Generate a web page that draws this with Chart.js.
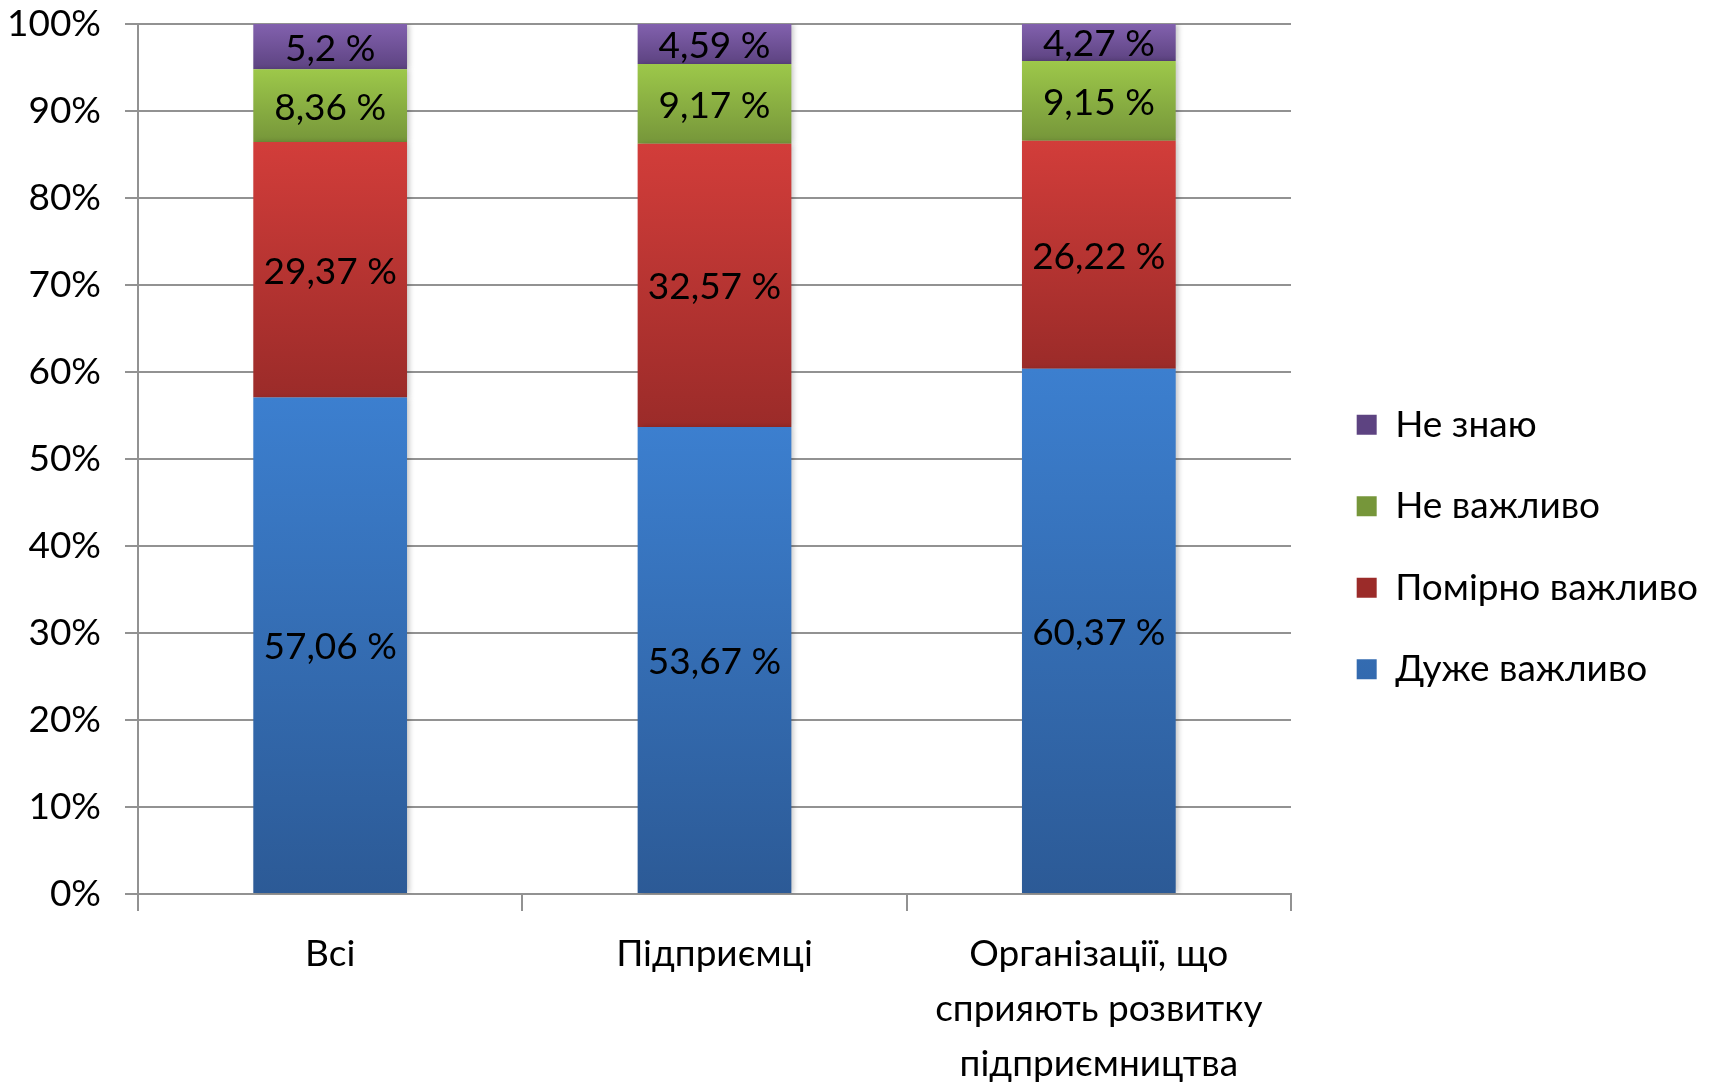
<!DOCTYPE html>
<html>
<head>
<meta charset="utf-8">
<script src="https://cdn.jsdelivr.net/npm/chart.js@4.4.1/dist/chart.umd.min.js"></script>
<style>
  html, body { margin: 0; padding: 0; background: #fff; }
  #wrap { width: 1714px; height: 1087px; position: relative; }
</style>
</head>
<body>
<div id="wrap"><canvas id="chart"></canvas></div>
<script>
// Категорії та значення (у відсотках)
const categories = ['Всі', 'Підприємці', ['Організації, що', 'сприяють розвитку', 'підприємництва']];
const seriesNames = ['Дуже важливо', 'Помірно важливо', 'Не важливо', 'Не знаю'];
const veryImportant = [57.06, 53.67, 60.37];
const moderately = [29.37, 32.57, 26.22];
const notImportant = [8.36, 9.17, 9.15];
const dontKnow = [5.2, 4.59, 4.27];

const FONT = 'Lato';
const GRID = '#929292';
const PAD_R = 6;
const PLOT_RIGHT = 1291;

// вертикальний градієнт для кожного сегмента (світліше зверху)
function grad(top, bottom, solid) {
  return c => {
    const chart = c.chart, y = chart.scales && chart.scales.y;
    if (c.type !== 'data' || !y) return solid;
    let start = 0;
    for (let i = 0; i < c.datasetIndex; i++) start += chart.data.datasets[i].data[c.dataIndex];
    const y0 = y.getPixelForValue(start + c.raw), y1 = y.getPixelForValue(start);
    if (!isFinite(y0) || !isFinite(y1) || y0 === y1) return solid;
    const g = chart.ctx.createLinearGradient(0, y0, 0, y1);
    g.addColorStop(0, top);
    g.addColorStop(1, bottom);
    return g;
  };
}

const fmt = v => String(v).replace('.', ',') + ' %';

// легка тінь справа від стовпців
const barShadow = {
  id: 'barShadow',
  beforeDatasetsDraw(chart) {
    const ctx = chart.ctx;
    ctx.save();
    ctx.shadowColor = 'rgba(0,0,0,0.22)';
    ctx.shadowBlur = 5;
    ctx.shadowOffsetX = 3;
  },
  afterDatasetsDraw(chart) { chart.ctx.restore(); }
};

const barLabels = {
  id: 'barLabels',
  afterDatasetsDraw(chart) {
    const ctx = chart.ctx;
    ctx.save();
    ctx.font = '37px ' + FONT;
    ctx.fillStyle = '#000';
    ctx.textAlign = 'center';
    ctx.textBaseline = 'middle';
    chart.data.datasets.forEach((ds, i) => {
      chart.getDatasetMeta(i).data.forEach((el, j) => {
        ctx.fillText(fmt(ds.data[j]), el.x, (el.y + el.base) / 2 + 2);
      });
    });
    ctx.restore();
  }
};

const datasets = [
  { label: seriesNames[0], data: veryImportant, backgroundColor: grad('#3c7fcf', '#2c5a96', '#3570b8') },
  { label: seriesNames[1], data: moderately, backgroundColor: grad('#d23d3a', '#9b2b29', '#c0393a') },
  { label: seriesNames[2], data: notImportant, backgroundColor: grad('#9dc84a', '#76963a', '#8db443') },
  { label: seriesNames[3], data: dontKnow, backgroundColor: grad('#8261ae', '#5d4381', '#6f5299') }
];

new Chart(document.getElementById('chart'), {
  type: 'bar',
  data: { labels: categories, datasets },
  options: {
    responsive: true,
    maintainAspectRatio: false,
    animation: false,
    barPercentage: 0.4,
    categoryPercentage: 1,
    layout: { padding: { top: 7, left: 0, right: PAD_R, bottom: 0 } },
    plugins: {
      legend: {
        position: 'right',
        reverse: true,
        maxWidth: 440,
        labels: {
          boxWidth: 20, boxHeight: 20, padding: 44.5,
          color: '#000',
          font: { family: FONT, size: 37 }
        }
      },
      tooltip: { enabled: false }
    },
    scales: {
      x: {
        stacked: true,
        grid: { drawOnChartArea: false, offset: true, tickLength: 17, color: GRID, lineWidth: 2 },
        border: { color: GRID, width: 2 },
        ticks: { color: '#000', maxRotation: 0, padding: 16, font: { family: FONT, size: 37, lineHeight: 55 / 37 } },
        afterFit: s => { s.height = 1087 - 894; }
      },
      y: {
        stacked: true,
        min: 0, max: 100,
        grid: { color: GRID, lineWidth: 2, tickLength: 13 },
        border: { color: GRID, width: 2 },
        ticks: { stepSize: 10, color: '#000', padding: 24, font: { family: FONT, size: 37 }, callback: v => v + '%' },
        afterFit: s => { s.width = 138; s.paddingTop = 24; s.paddingBottom = 24; }
      },
      y2: {
        position: 'right',
        display: true,
        grid: { display: false, drawTicks: false },
        border: { display: false },
        ticks: { display: false },
        afterFit: s => {
          s.width = Math.max(0, 1714 - PAD_R - PLOT_RIGHT - (s.chart.legend ? s.chart.legend.width : 0));
          s.paddingTop = 0; s.paddingBottom = 0;
        }
      }
    }
  },
  plugins: [barShadow, barLabels]
});
</script>
</body>
</html>
